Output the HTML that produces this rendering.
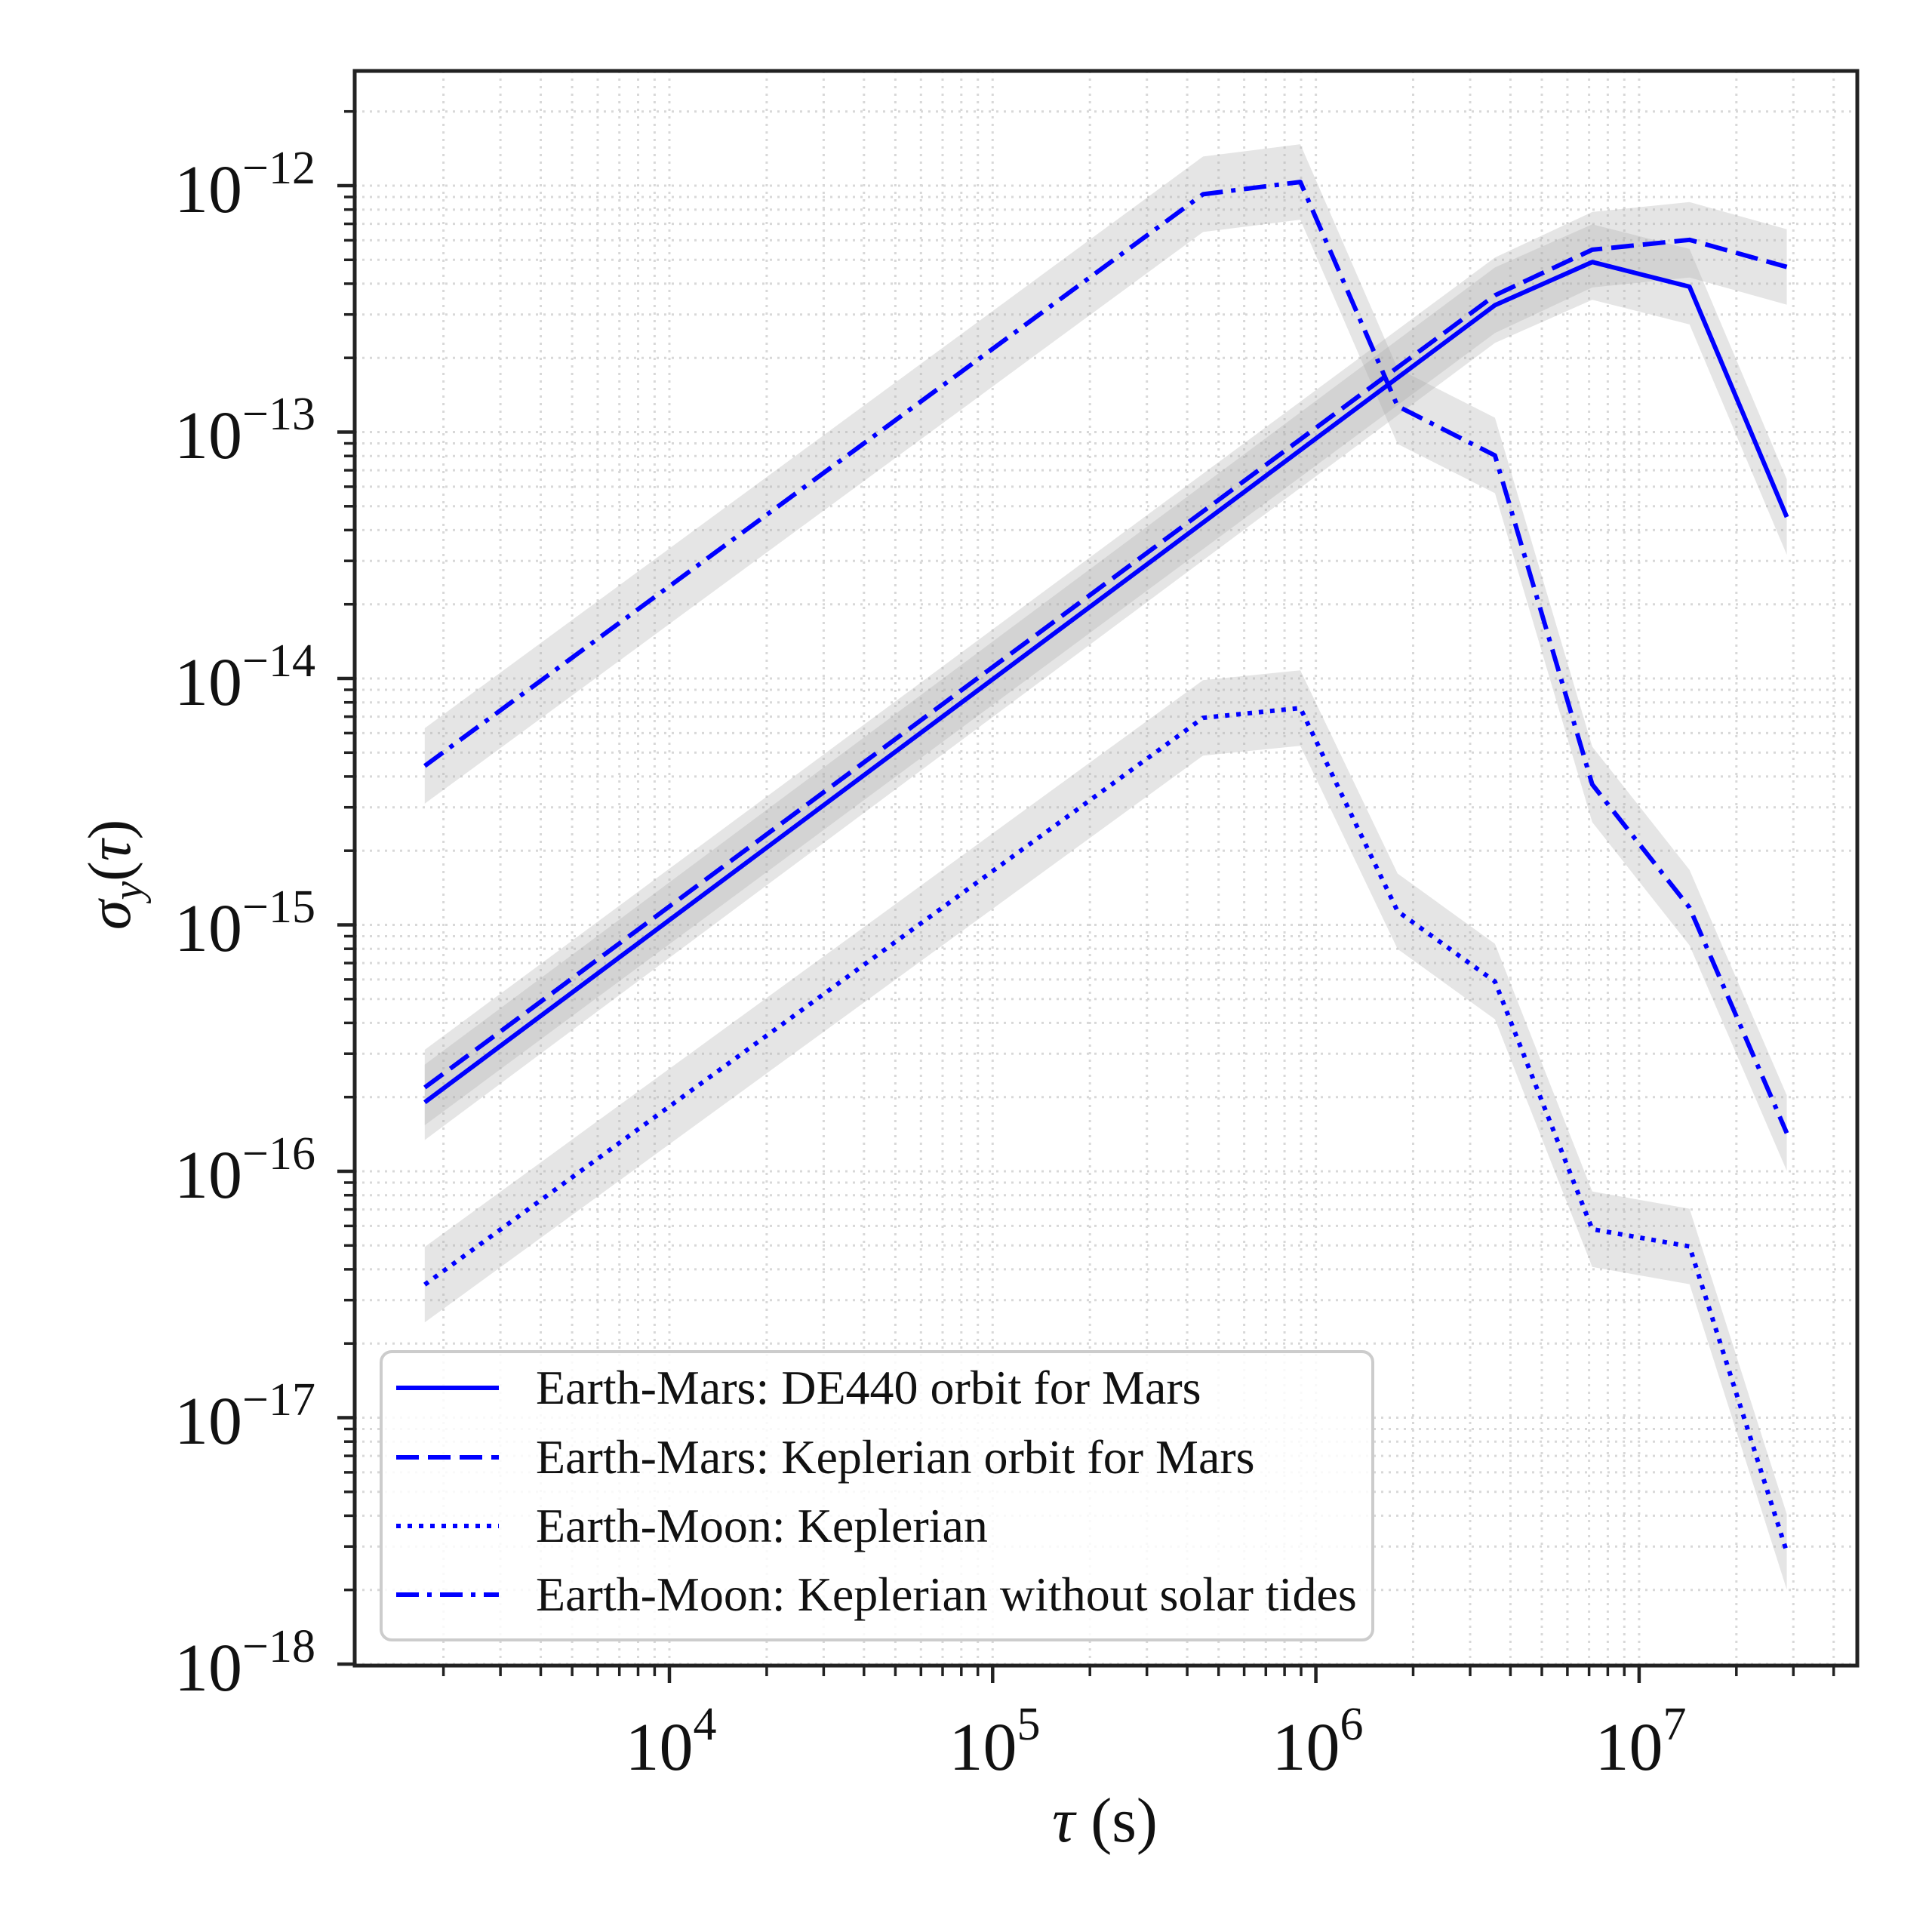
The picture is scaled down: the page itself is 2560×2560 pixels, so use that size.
<!DOCTYPE html>
<html><head><meta charset="utf-8"><style>
html,body{margin:0;padding:0;background:#fff;}
svg{display:block;font-family:"Liberation Serif",serif;}
</style></head><body>
<svg width="2560" height="2560" viewBox="0 0 2560 2560" xmlns="http://www.w3.org/2000/svg">
<defs>
<clipPath id="ax"><rect x="470" y="94" width="1991" height="2113"/></clipPath>
<g id="xd" stroke="#d8d8d8" stroke-width="3" stroke-dasharray="3,7">
<line x1="0" y1="94" x2="0" y2="2207"/>
<line x1="128.9" y1="94" x2="128.9" y2="2207"/>
<line x1="204.4" y1="94" x2="204.4" y2="2207"/>
<line x1="257.8" y1="94" x2="257.8" y2="2207"/>
<line x1="299.4" y1="94" x2="299.4" y2="2207"/>
<line x1="333.3" y1="94" x2="333.3" y2="2207"/>
<line x1="362" y1="94" x2="362" y2="2207"/>
<line x1="386.8" y1="94" x2="386.8" y2="2207"/>
<line x1="408.7" y1="94" x2="408.7" y2="2207"/>
</g>
<g id="yd" stroke="#d8d8d8" stroke-width="3" stroke-dasharray="3,7">
<line x1="470" y1="0" x2="2461" y2="0"/>
<line x1="470" y1="-98.3" x2="2461" y2="-98.3"/>
<line x1="470" y1="-155.8" x2="2461" y2="-155.8"/>
<line x1="470" y1="-196.6" x2="2461" y2="-196.6"/>
<line x1="470" y1="-228.2" x2="2461" y2="-228.2"/>
<line x1="470" y1="-254.1" x2="2461" y2="-254.1"/>
<line x1="470" y1="-275.9" x2="2461" y2="-275.9"/>
<line x1="470" y1="-294.8" x2="2461" y2="-294.8"/>
<line x1="470" y1="-311.5" x2="2461" y2="-311.5"/>
</g>
<g id="xt" stroke="#222" stroke-width="3.5">
<line x1="0" y1="2207" x2="0" y2="2230" stroke-width="4.5"/>
<line x1="128.9" y1="2207" x2="128.9" y2="2221"/>
<line x1="204.4" y1="2207" x2="204.4" y2="2221"/>
<line x1="257.8" y1="2207" x2="257.8" y2="2221"/>
<line x1="299.4" y1="2207" x2="299.4" y2="2221"/>
<line x1="333.3" y1="2207" x2="333.3" y2="2221"/>
<line x1="362" y1="2207" x2="362" y2="2221"/>
<line x1="386.8" y1="2207" x2="386.8" y2="2221"/>
<line x1="408.7" y1="2207" x2="408.7" y2="2221"/>
</g>
<g id="yt" stroke="#222" stroke-width="3.5">
<line x1="447" y1="0" x2="470" y2="0" stroke-width="4.5"/>
<line x1="456" y1="-98.3" x2="470" y2="-98.3"/>
<line x1="456" y1="-155.8" x2="470" y2="-155.8"/>
<line x1="456" y1="-196.6" x2="470" y2="-196.6"/>
<line x1="456" y1="-228.2" x2="470" y2="-228.2"/>
<line x1="456" y1="-254.1" x2="470" y2="-254.1"/>
<line x1="456" y1="-275.9" x2="470" y2="-275.9"/>
<line x1="456" y1="-294.8" x2="470" y2="-294.8"/>
<line x1="456" y1="-311.5" x2="470" y2="-311.5"/>
</g>
<clipPath id="xtc"><rect x="470" y="2200" width="1991" height="40"/></clipPath>
<clipPath id="ytc"><rect x="430" y="94" width="40" height="2115"/></clipPath>
</defs>

<g clip-path="url(#ax)">
<use href="#xd" x="458.7"/><use href="#xd" x="887"/><use href="#xd" x="1315.3"/><use href="#xd" x="1743.6"/><use href="#xd" x="2171.9"/>
<use href="#yd" y="2205"/><use href="#yd" y="1878.5"/><use href="#yd" y="1552"/><use href="#yd" y="1225.5"/><use href="#yd" y="899"/><use href="#yd" y="572.5"/><use href="#yd" y="246"/>

<g fill="#a8a8a8" fill-opacity="0.30" stroke="none">
<polygon points="562.8,1410.6 1980.9,354.4 2109.8,297.2 2238.7,329.9 2367.6,635.1 2367.6,735.1 2238.7,429.9 2109.8,397.2 1980.9,454.4 562.8,1510.6"/>
<polygon points="562.8,1391 1980.9,341.3 2109.8,280.9 2238.7,267.8 2367.6,303.7 2367.6,403.7 2238.7,367.8 2109.8,380.9 1980.9,441.3 562.8,1491"/>
<polygon points="562.8,1652.2 1594.1,901.2 1723,888.2 1851.9,1157.5 1980.9,1250.6 2109.8,1578.7 2238.7,1601.6 2367.6,2006.4 2367.6,2106.4 2238.7,1701.6 2109.8,1678.7 1980.9,1350.6 1851.9,1257.5 1723,988.2 1594.1,1001.2 562.8,1752.2"/>
<polygon points="562.8,964.9 1594.1,207.4 1723,191.1 1851.9,488.2 1980.9,553.5 2109.8,989.4 2238.7,1152.6 2367.6,1451.4 2367.6,1551.4 2238.7,1252.6 2109.8,1089.4 1980.9,653.5 1851.9,588.2 1723,291.1 1594.1,307.4 562.8,1064.9"/>
</g>

<g fill="none" stroke="#0000ff" stroke-width="6" stroke-linejoin="round">
<polyline points="562.8,1460.6 1980.9,404.4 2109.8,347.2 2238.7,379.9 2367.6,685.1"/>
<polyline points="562.8,1441 1980.9,391.3 2109.8,330.9 2238.7,317.8 2367.6,353.7" stroke-dasharray="30,12"/>
<polyline points="562.8,1702.2 1594.1,951.2 1723,938.2 1851.9,1207.5 1980.9,1300.6 2109.8,1628.7 2238.7,1651.6 2367.6,2056.4" stroke-dasharray="6,9"/>
<polyline points="562.8,1014.9 1594.1,257.4 1723,241.1 1851.9,538.2 1980.9,603.5 2109.8,1039.4 2238.7,1202.6 2367.6,1501.4" stroke-dasharray="30,11,6,11"/>
</g>
</g>

<g clip-path="url(#xtc)">
<use href="#xt" x="458.7"/><use href="#xt" x="887"/><use href="#xt" x="1315.3"/><use href="#xt" x="1743.6"/><use href="#xt" x="2171.9"/>
</g>
<g clip-path="url(#ytc)">
<use href="#yt" y="2205"/><use href="#yt" y="1878.5"/><use href="#yt" y="1552"/><use href="#yt" y="1225.5"/><use href="#yt" y="899"/><use href="#yt" y="572.5"/><use href="#yt" y="246"/>
</g>

<rect x="470" y="94" width="1991" height="2113" fill="none" stroke="#222" stroke-width="5"/>

<!-- legend -->
<rect x="505" y="1791" width="1314" height="382" rx="14" fill="#fff" fill-opacity="0.85" stroke="#cccccc" stroke-width="4"/>
<g stroke="#0000ff" stroke-width="6" fill="none">
<line x1="525" y1="1839" x2="661" y2="1839"/>
<line x1="525" y1="1931" x2="661" y2="1931" stroke-dasharray="30,12"/>
<line x1="525" y1="2022" x2="661" y2="2022" stroke-dasharray="6,9"/>
<line x1="525" y1="2113" x2="661" y2="2113" stroke-dasharray="30,11,6,11"/>
</g>
<g font-size="64" fill="#111">
<text x="710" y="1860">Earth-Mars: DE440 orbit for Mars</text>
<text x="710" y="1952">Earth-Mars: Keplerian orbit for Mars</text>
<text x="710" y="2043">Earth-Moon: Keplerian</text>
<text x="710" y="2134">Earth-Moon: Keplerian without solar tides</text>
</g>

<!-- y tick labels -->
<g font-size="90" fill="#111" text-anchor="end">
<text x="418" y="281">10<tspan font-size="62" dy="-38">−12</tspan></text>
<text x="418" y="607">10<tspan font-size="62" dy="-38">−13</tspan></text>
<text x="418" y="934">10<tspan font-size="62" dy="-38">−14</tspan></text>
<text x="418" y="1260">10<tspan font-size="62" dy="-38">−15</tspan></text>
<text x="418" y="1587">10<tspan font-size="62" dy="-38">−16</tspan></text>
<text x="418" y="1913">10<tspan font-size="62" dy="-38">−17</tspan></text>
<text x="418" y="2240">10<tspan font-size="62" dy="-38">−18</tspan></text>
</g>
<!-- x tick labels -->
<g font-size="90" fill="#111" text-anchor="middle">
<text x="889" y="2345">10<tspan font-size="62" dy="-40">4</tspan></text>
<text x="1318" y="2345">10<tspan font-size="62" dy="-40">5</tspan></text>
<text x="1746" y="2345">10<tspan font-size="62" dy="-40">6</tspan></text>
<text x="2174" y="2345">10<tspan font-size="62" dy="-40">7</tspan></text>
</g>
<text x="1464" y="2440" font-size="84" text-anchor="middle" fill="#111"><tspan font-style="italic">τ</tspan> (s)</text>
<text transform="translate(172,1159) rotate(-90)" font-size="80" text-anchor="middle" fill="#111"><tspan font-style="italic">σ</tspan><tspan font-style="italic" font-size="56" dy="16">y</tspan><tspan dy="-16">(</tspan><tspan font-style="italic">τ</tspan>)</text>
</svg>
</body></html>
